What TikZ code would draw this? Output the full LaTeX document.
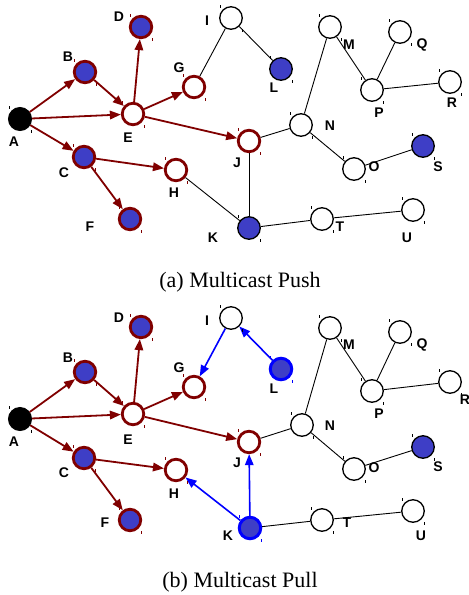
\documentclass[tikz,border=0pt]{standalone}
\usepackage{fontspec}
\newfontfamily\lblfont{Liberation Sans}
\newfontfamily\capfont{Liberation Serif}
\usetikzlibrary{arrows.meta}
\definecolor{pushred}{RGB}{128,0,0}
\definecolor{pullblue}{RGB}{0,0,255}
\definecolor{checkblue}{RGB}{62,62,198}
\begin{document}
\begin{tikzpicture}[x=1pt,y=-1pt,
  base/.style={circle,inner sep=0pt},
  plainnode/.style={base,draw=black,line width=1.3pt,fill=white,minimum size=22.5pt},
  srcnode/.style={base,draw=black,fill=black,line width=1pt,minimum size=23pt},
  rednode/.style={base,draw=pushred,line width=2.8pt,fill=white,minimum size=21.5pt},
  % shaded (dotted blue) interior
  checker/.style={fill=checkblue},
  redcheck/.style={rednode,checker},
  blackcheck/.style={plainnode,checker},
  bluecheck/.style={base,draw=pullblue,line width=3pt,minimum size=21.5pt,checker},
  lbl/.style={inner sep=0pt,font=\lblfont\bfseries\fontsize{14}{14}\selectfont},
  captext/.style={inner sep=0pt,anchor=base,font=\capfont\fontsize{22}{22}\selectfont},
  push/.style={draw=pushred,line width=1.8pt,-{Triangle[length=11pt,width=8.5pt]}},
  pull/.style={draw=pullblue,line width=1.6pt,-{Triangle[length=11pt,width=8.5pt]}},
  link/.style={draw=black,line width=0.9pt},
  handle/.style={line width=0.7pt},
]
\useasboundingbox (0,0) rectangle (469,595);

% ---------------- (a) Multicast Push ----------------
\begin{scope}
\node[srcnode]   (aA) at (20,119) {};
\node[redcheck]  (aB) at (85,72) {};
\node[redcheck]  (aC) at (84,157) {};
\node[redcheck]  (aD) at (141,27) {};
\node[rednode]   (aE) at (133,114) {};
\node[redcheck]  (aF) at (130,219) {};
\node[rednode]   (aG) at (194,87) {};
\node[rednode]   (aH) at (176,170) {};
\node[plainnode] (aI) at (231,18) {};
\node[rednode]   (aJ) at (249,141) {};
\node[blackcheck](aK) at (249,228) {};
\node[blackcheck](aL) at (281,69) {};
\node[plainnode] (aM) at (330,27) {};
\node[plainnode] (aN) at (301,125) {};
\node[plainnode] (aO) at (354,169) {};
\node[plainnode] (aP) at (372,90) {};
\node[plainnode] (aQ) at (400,32) {};
\node[plainnode] (aR) at (450,82) {};
\node[blackcheck](aS) at (423,146) {};
\node[plainnode] (aT) at (322,219) {};
\node[plainnode] (aU) at (413,210) {};

\path[push] (aA) -- (aB);
\path[push] (aA) -- (aE);
\path[push] (aA) -- (aC);
\path[push] (aB) -- (aE);
\path[push] (aE) -- (aD);
\path[push] (aE) -- (aG);
\path[push] (aE) -- (aJ);
\path[push] (aC) -- (aH);
\path[push] (aC) -- (aF);
\path[link] (aG) -- (aI);
\path[link] (aI) -- (aL);
\path[link] (aH) -- (aK);
\path[link] (aJ) -- (aK);
\path[link] (aJ) -- (aN);
\path[link] (aN) -- (aM);
\path[link] (aM) -- (aP);
\path[link] (aP) -- (aQ);
\path[link] (aP) -- (aR);
\path[link] (aN) -- (aO);
\path[link] (aO) -- (aS);
\path[link] (aK) -- (aT);
\path[link] (aT) -- (aU);

\node[lbl] (laA) at (14,142) {A};
\node[lbl] (laB) at (68,57) {B};
\node[lbl] (laC) at (64,173) {C};
\node[lbl] (laD) at (119,17) {D};
\node[lbl] (laE) at (128,138) {E};
\node[lbl] (laF) at (90,227) {F};
\node[lbl] (laG) at (179,68) {G};
\node[lbl] (laH) at (174,193) {H};
\node[lbl] (laI) at (207,21) {I};
\node[lbl] (laJ) at (237,163) {J};
\node[lbl] (laK) at (213,238) {K};
\node[lbl] (laL) at (274,88) {L};
\node[lbl] (laM) at (349,45) {M};
\node[lbl] (laN) at (330,126) {N};
\node[lbl] (laO) at (374,167) {O};
\node[lbl] (laP) at (379,113) {P};
\node[lbl] (laQ) at (422,45) {Q};
\node[lbl] (laR) at (452,103) {R};
\node[lbl] (laS) at (438,167) {S};
\node[lbl] (laT) at (340,227) {T};
\node[lbl] (laU) at (407,238) {U};

\node[captext] (capa) at (240,287) {(a) Multicast Push};
\end{scope}

% ---------------- (b) Multicast Pull ----------------
\begin{scope}
\node[srcnode]   (bA) at (20,419) {};
\node[redcheck]  (bB) at (85,372) {};
\node[redcheck]  (bC) at (84,458) {};
\node[redcheck]  (bD) at (141,327) {};
\node[rednode]   (bE) at (133,414) {};
\node[redcheck]  (bF) at (130,520) {};
\node[rednode]   (bG) at (194,387) {};
\node[rednode]   (bH) at (176,470) {};
\node[plainnode] (bI) at (231,318) {};
\node[rednode]   (bJ) at (249,442) {};
\node[bluecheck] (bK) at (250,528) {};
\node[bluecheck] (bL) at (281,369) {};
\node[plainnode] (bM) at (330,328) {};
\node[plainnode] (bN) at (302,425) {};
\node[plainnode] (bO) at (354,469) {};
\node[plainnode] (bP) at (372,391) {};
\node[plainnode] (bQ) at (400,332) {};
\node[plainnode] (bR) at (450,382) {};
\node[blackcheck](bS) at (423,447) {};
\node[plainnode] (bT) at (322,520) {};
\node[plainnode] (bU) at (413,511) {};

\path[push] (bA) -- (bB);
\path[push] (bA) -- (bE);
\path[push] (bA) -- (bC);
\path[push] (bB) -- (bE);
\path[push] (bE) -- (bD);
\path[push] (bE) -- (bG);
\path[push] (bE) -- (bJ);
\path[push] (bC) -- (bH);
\path[push] (bC) -- (bF);
\path[pull] (bI) -- (bG);
\path[pull] (bL) -- (bI);
\path[pull] (bK) -- (bH);
\path[pull] (bK) -- (bJ);
\path[link] (bJ) -- (bN);
\path[link] (bN) -- (bM);
\path[link] (bM) -- (bP);
\path[link] (bP) -- (bQ);
\path[link] (bP) -- (bR);
\path[link] (bN) -- (bO);
\path[link] (bO) -- (bS);
\path[link] (bK) -- (bT);
\path[link] (bT) -- (bU);

\node[lbl] (lbA) at (14,442) {A};
\node[lbl] (lbB) at (68,358) {B};
\node[lbl] (lbC) at (64,473) {C};
\node[lbl] (lbD) at (119,318) {D};
\node[lbl] (lbE) at (128,440) {E};
\node[lbl] (lbF) at (105,523) {F};
\node[lbl] (lbG) at (179,368) {G};
\node[lbl] (lbH) at (174,494) {H};
\node[lbl] (lbI) at (207,321) {I};
\node[lbl] (lbJ) at (237,463) {J};
\node[lbl] (lbK) at (228,536) {K};
\node[lbl] (lbL) at (274,389) {L};
\node[lbl] (lbM) at (349,345) {M};
\node[lbl] (lbN) at (330,426) {N};
\node[lbl] (lbO) at (374,468) {O};
\node[lbl] (lbP) at (379,414) {P};
\node[lbl] (lbQ) at (422,345) {Q};
\node[lbl] (lbR) at (465,400) {R};
\node[lbl] (lbS) at (438,467) {S};
\node[lbl] (lbT) at (347,523) {T};
\node[lbl] (lbU) at (421,536) {U};

\node[captext] (capb) at (240,587) {(b) Multicast Pull};
\end{scope}

% small corner handles next to each node
\foreach \n in {aB,aC,aD,aE,aF,aG,aH,aJ,bB,bC,bD,bE,bF,bG,bH,bJ}
  \draw[handle,pushred] ([shift={(-11,-13)}]\n.center) -- ++(0,2.5)
                        ([shift={(11,11)}]\n.center) -- ++(0,2.5);
\foreach \n in {aA,aI,aK,aL,aM,aN,aO,aP,aQ,aR,aS,aT,aU,bA,bI,bM,bN,bO,bP,bQ,bR,bS,bT,bU}
  \draw[handle,black] ([shift={(-11,-13)}]\n.center) -- ++(0,2.5)
                      ([shift={(11,11)}]\n.center) -- ++(0,2.5);
\foreach \n in {bK,bL}
  \draw[handle,pullblue] ([shift={(-11,-13)}]\n.center) -- ++(0,2.5)
                         ([shift={(11,11)}]\n.center) -- ++(0,2.5);
\end{tikzpicture}
\end{document}
